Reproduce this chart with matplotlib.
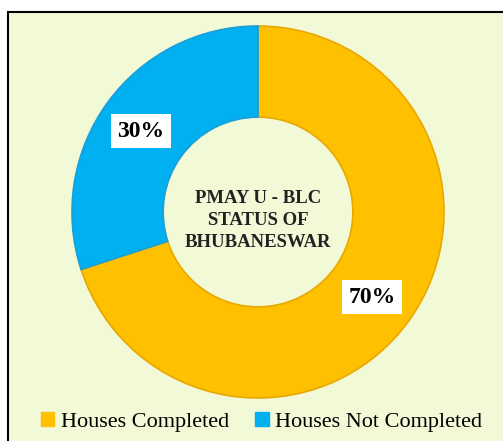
import matplotlib.pyplot as plt
from matplotlib.patches import Rectangle

# data
labels = ["Houses Completed", "Houses Not Completed"]
values = [70, 30]
colors = ["#FFC000", "#00B0F0"]
pct_text = ["70%", "30%"]
center_title = "PMAY U - BLC\nSTATUS OF\nBHUBANESWAR"

plt.rcParams['font.family'] = ['Liberation Serif', 'DejaVu Serif']

fig = plt.figure(figsize=(5.03, 4.41), dpi=100)
fig.patch.set_facecolor("white")
W, H = 503, 441

# background panel with black border
bg = fig.add_axes([0, 0, 1, 1], zorder=-1)
bg.set_xlim(0, W)
bg.set_ylim(H, 0)
bg.axis("off")
bg.add_patch(Rectangle((8, 12), W + 10, H + 10, facecolor="#F1F9D6",
                       edgecolor="black", linewidth=1.5))

# donut axes: center (258, 212), radius 186 px
r = 186
cx, cy = 258, H - 212
ax = fig.add_axes([(cx - r) / W, (cy - r) / H, 2 * r / W, 2 * r / H])
ax.set_facecolor("none")

wedges, _ = ax.pie(values, colors=colors, startangle=90, counterclock=False,
                   radius=1.0, wedgeprops=dict(width=0.49, edgecolor="#E8A800", linewidth=1.2))
wedges[1].set_edgecolor("#1A9FD6")
ax.set_xlim(-1, 1)
ax.set_ylim(-1, 1)
ax.set_aspect("equal")
ax.axis("off")

# percent labels
ax.text(0.613, -0.457, pct_text[0], ha="center", va="center", fontsize=17, fontweight="bold",
        bbox=dict(facecolor="white", edgecolor="none", pad=4.5))
ax.text(-0.629, 0.435, pct_text[1], ha="center", va="center", fontsize=17, fontweight="bold",
        bbox=dict(facecolor="white", edgecolor="none", pad=4.5))

ax.text(0.0, -0.045, center_title, ha="center", va="center", fontsize=13.5, fontweight="bold",
        color="#222222", linespacing=1.4)

# legend
handles = [plt.Rectangle((0, 0), 1, 1, color=c) for c in colors]
fig.legend(handles, labels, loc="center", bbox_to_anchor=(0.52, 1 - 422 / H), ncol=2,
           frameon=False, fontsize=16, handlelength=0.6, handleheight=0.6,
           handletextpad=0.3, columnspacing=1.2)

fig.savefig("out.png", dpi=100)
